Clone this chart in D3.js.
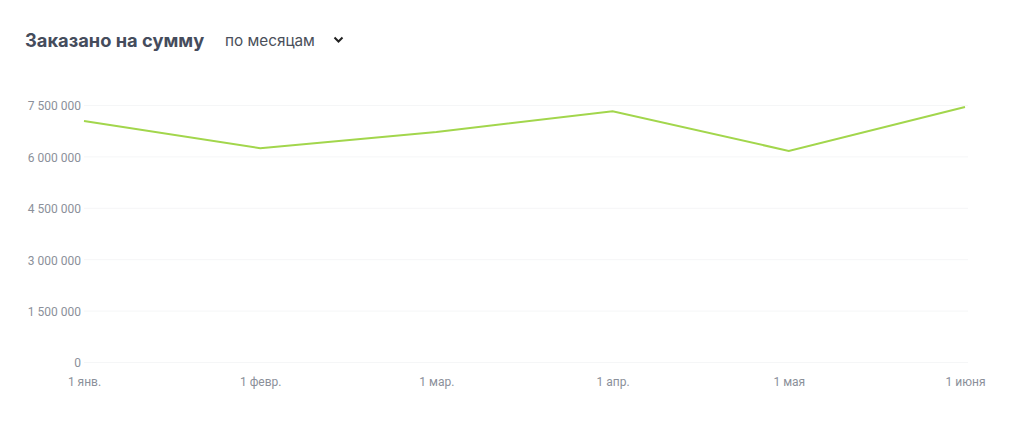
<!DOCTYPE html>
<html>
<head>
<meta charset="utf-8">
<style>
body { margin: 0; background: #fff; font-family: Inter, "Noto Sans", sans-serif; }
.grid line { stroke: #f5f6f7; stroke-width: 1px; }
.axis text { fill: #8b909a; font-size: 12px; font-family: Roboto, "Noto Sans", sans-serif; }
.line { fill: none; stroke: #a2d64c; stroke-width: 2px; }
</style>
</head>
<body>
<script src="https://cdn.jsdelivr.net/npm/d3@7"></script>
<script>
// data
var months = ["1 янв.", "1 февр.", "1 мар.", "1 апр.", "1 мая", "1 июня"];
var amounts = [7030000, 6240000, 6710000, 7320000, 6160000, 7440000];
var yTicks = [0, 1500000, 3000000, 4500000, 6000000, 7500000];

var margin = {top: 105, right: 51, bottom: 76, left: 84},
    width = 1016 - margin.left - margin.right,
    height = 438 - margin.top - margin.bottom;

var svg = d3.select("body").append("svg")
    .attr("width", 1016)
    .attr("height", 438);

// header
svg.append("text")
    .attr("x", 25).attr("y", 47)
    .style("font-family", "Inter, 'Noto Sans', sans-serif")
    .style("font-weight", 700)
    .style("font-size", "18.3px")
    .style("fill", "#454c5c")
    .text("Заказано на сумму");

svg.append("text")
    .attr("x", 225).attr("y", 46)
    .style("font-family", "Inter, 'Noto Sans', sans-serif")
    .style("font-size", "15.3px")
    .style("fill", "#4a4f5a")
    .text("по месяцам");

// chevron of the dropdown
svg.append("path")
    .attr("d", "M334.5,37.5 L338.5,41.5 L342.5,37.5")
    .style("fill", "none")
    .style("stroke", "#222")
    .style("stroke-width", 2);

var g = svg.append("g")
    .attr("transform", "translate(" + margin.left + "," + margin.top + ")");

var x = d3.scalePoint().domain(months).range([0, width]);
var y = d3.scaleLinear().domain([0, 7500000]).range([height, 0]);

var fmt = function(d) { return d3.format(",")(d).replace(/,/g, " "); };

// grid lines
g.append("g")
    .attr("class", "grid")
    .call(d3.axisLeft(y).tickValues(yTicks).tickSize(-(width + 3)).tickFormat(""))
    .call(function(s) { s.select(".domain").remove(); });

// y axis labels
g.append("g")
    .attr("class", "axis")
    .attr("transform", "translate(0,1)")
    .call(d3.axisLeft(y).tickValues(yTicks).tickSize(0).tickPadding(3).tickFormat(fmt))
    .call(function(s) { s.select(".domain").remove(); });

// x axis labels
g.append("g")
    .attr("class", "axis")
    .attr("transform", "translate(0," + height + ")")
    .call(d3.axisBottom(x).tickSize(0).tickPadding(15))
    .call(function(s) { s.select(".domain").remove(); });

var line = d3.line()
    .x(function(d, i) { return x(months[i]); })
    .y(function(d) { return y(d); });

g.append("path")
    .datum(amounts)
    .attr("class", "line")
    .attr("d", line);
</script>
</body>
</html>
